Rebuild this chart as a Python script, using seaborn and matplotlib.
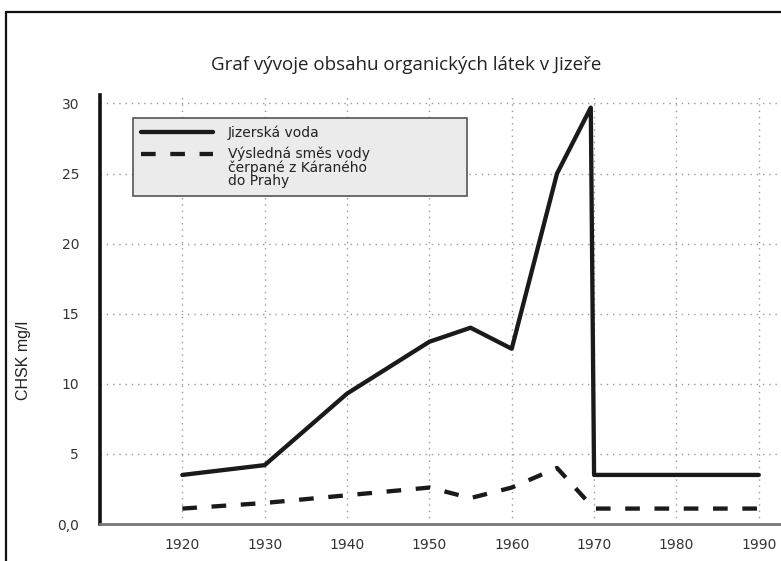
import matplotlib
matplotlib.use("Agg")
import matplotlib.pyplot as plt
from matplotlib.lines import Line2D
from matplotlib.legend_handler import HandlerLine2D
import numpy as np
import seaborn as sns
import pandas as pd

# Data
years_jiz = [1920, 1930, 1940, 1950, 1955, 1960, 1965.5, 1969.6, 1970, 1990]
chsk_jiz = [3.5, 4.2, 9.3, 13.0, 14.0, 12.5, 25.0, 29.7, 3.5, 3.5]
years_mix = [1920, 1930, 1940, 1950, 1955, 1960, 1965.5, 1970, 1990]
chsk_mix = [1.1, 1.5, 2.05, 2.6, 1.85, 2.6, 4.0, 1.1, 1.1]
series_names = ["Jizerská voda", "Výsledná směs vody\nčerpané z Káraného\ndo Prahy"]
xticks = [1920, 1930, 1940, 1950, 1960, 1970, 1980, 1990]
yticks = [0, 5, 10, 15, 20, 25, 30]
ytick_labels = ["0,0", "5", "10", "15", "20", "25", "30"]
title = "Graf vývoje obsahu organických látek v Jizeře"
ylabel = "CHSK mg/l"

df_jiz = pd.DataFrame({"year": years_jiz, "value": chsk_jiz, "series": series_names[0]})
df_mix = pd.DataFrame({"year": years_mix, "value": chsk_mix, "series": series_names[1]})

sns.set_style("white")
plt.rcParams["font.family"] = ["DejaVu Sans"]

fig = plt.figure(figsize=(7.81, 5.61), dpi=100)
ax = fig.add_axes([100 / 781, 37 / 561, 681 / 781, 429 / 561])

LW = 3.1
sns.lineplot(data=df_jiz, x="year", y="value", estimator=None, sort=False,
             color="#1a1a1a", lw=LW, ax=ax, label=series_names[0])
sns.lineplot(data=df_mix, x="year", y="value", estimator=None, sort=False,
             color="#1a1a1a", lw=LW, ax=ax, label=series_names[1])
ax.lines[1].set_linestyle((0, (3.4, 3.4)))

ax.set_xlim(1910, 1992.7)
ax.set_ylim(0, 30.6)
ax.set_xticks(xticks)
ax.set_xticklabels([str(x) for x in xticks])
ax.set_yticks(yticks)
ax.set_yticklabels(ytick_labels)
ax.set_xlabel("")
ax.set_ylabel("")

ax.grid(True, color="#9a9a9a", lw=1.0, linestyle=(0, (1, 3.5)))
ax.set_axisbelow(True)
for s in ["top", "right"]:
    ax.spines[s].set_visible(False)
ax.spines["left"].set_color("#111111")
ax.spines["left"].set_linewidth(2.6)
ax.spines["bottom"].set_color("#777777")
ax.spines["bottom"].set_linewidth(2.0)

ax.tick_params(axis="x", direction="out", length=4, width=1, color="#888888",
               pad=6, labelsize=10, labelcolor="#333333")
ax.tick_params(axis="y", direction="out", length=4, width=1, color="#888888",
               pad=11, labelsize=10, labelcolor="#333333")


class HandlerFirstLine(HandlerLine2D):
    """Put the legend line next to the first line of a multi-line label."""
    def __init__(self, shift_pt=0.0, dashes=None, **kw):
        super().__init__(**kw)
        self.shift_pt = shift_pt
        self.dashes = dashes

    def create_artists(self, legend, orig_handle, xdescent, ydescent, width,
                       height, fontsize, trans):
        arts = super().create_artists(legend, orig_handle, xdescent, ydescent,
                                      width, height, fontsize, trans)
        for a in arts:
            a.set_ydata(np.asarray(a.get_ydata(), float) + self.shift_pt)
            if self.dashes is not None and len(a.get_xdata()) == 2:
                a.set_linestyle(self.dashes)
        return arts


h_solid, h_dash = ax.lines[0], ax.lines[1]
leg = ax.legend(handles=[h_solid, h_dash], labels=series_names,
                handler_map={h_dash: HandlerFirstLine(shift_pt=10.1, dashes=(0, (3.6, 2.0)))},
                loc="upper left", bbox_to_anchor=(0.0485, 0.752, 0.49, 0.195),
                mode="expand", borderaxespad=0, frameon=True, fancybox=False,
                facecolor="#ebebeb", edgecolor="#555555", framealpha=1,
                handlelength=5.2, handletextpad=1.1, borderpad=0.55,
                labelspacing=0.45, fontsize=10)
leg.get_frame().set_linewidth(1.2)
for t in leg.get_texts():
    t.set_color("#222222")
    t.set_linespacing(0.95)

fig.text(406 / 781, 1 - 65 / 561, title, ha="center", va="center",
         fontsize=13.5, family=["Open Sans", "DejaVu Sans"], color="#222222")
fig.text(24 / 781, 1 - 360 / 561, ylabel, ha="center", va="center",
         rotation=90, fontsize=11.5,
         family=["Liberation Sans Narrow", "Liberation Sans", "DejaVu Sans"],
         color="#222222")

# page frame
fig.add_artist(Line2D([6 / 781, 6 / 781], [0, 1 - 12 / 561], transform=fig.transFigure,
                      color="#111111", lw=1.6))
fig.add_artist(Line2D([6 / 781, 1], [1 - 12 / 561, 1 - 12 / 561], transform=fig.transFigure,
                      color="#111111", lw=1.6))

fig.savefig("out.png", dpi=100)
